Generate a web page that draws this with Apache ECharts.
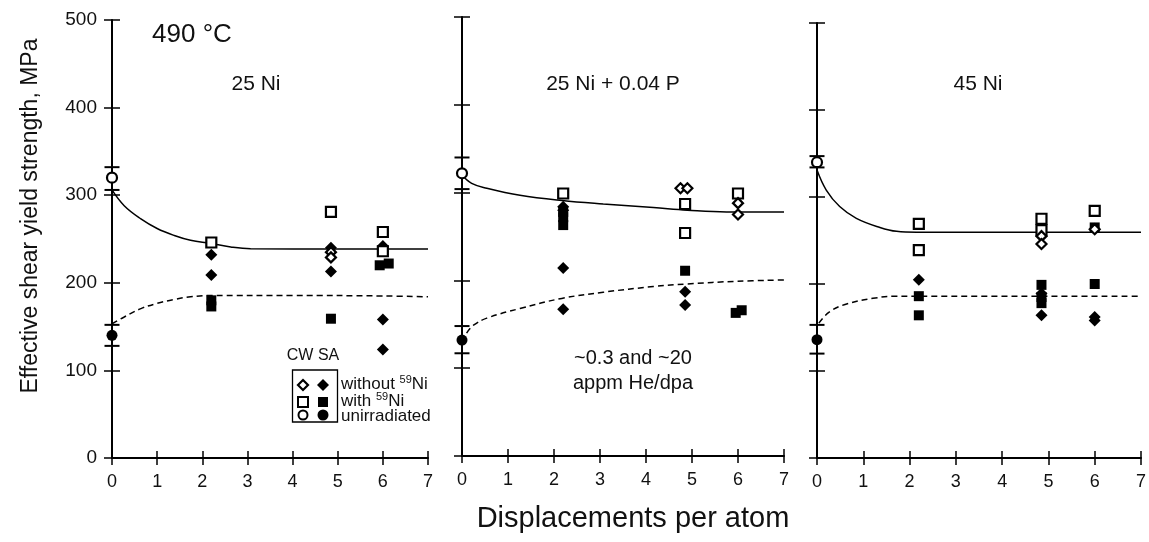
<!DOCTYPE html>
<html>
<head>
<meta charset="utf-8">
<script src="https://cdn.jsdelivr.net/npm/echarts@6/dist/echarts.min.js"></script>
<style>
  html, body { margin: 0; padding: 0; background: #fff; }
  #chart { width: 1149px; height: 542px; }
</style>
</head>
<body>
<div id="chart"></div>
<script>
// ---- data ----
const xTicks = [0, 1, 2, 3, 4, 5, 6, 7];
const yTicks = [0, 100, 200, 300, 400, 500];
const panelTitles = ["25 Ni", "25 Ni + 0.04 P", "45 Ni"];

// panel 1 : 25 Ni
const ni25OpenCircle = [[0, 320]];
const ni25ClosedCircle = [[0, 140]];
const ni25ErrCaps = [[0, 332], [0, 306], [0, 152], [0, 128]];
const ni25OpenDiamond = [[4.85, 235], [4.85, 229]];
const ni25ClosedDiamond = [[2.2, 232], [2.2, 209], [4.85, 240], [4.85, 213], [6.0, 242], [6.0, 158], [6.0, 124]];
const ni25OpenSquare = [[2.2, 246], [4.85, 281], [6.0, 258], [6.0, 236]];
const ni25ClosedSquare = [[2.2, 180], [2.2, 173], [4.85, 159], [5.93, 220], [6.13, 222]];
const ni25Upper = [[0, 306], [0.27, 288], [0.64, 273], [1.0, 262], [1.38, 254], [1.74, 248.5], [2.17, 245], [2.63, 241], [3.07, 239], [5, 238.5], [7, 238.5]];
const ni25Lower = [[0, 153], [0.27, 161], [0.64, 170.5], [1.0, 176.5], [1.38, 181], [1.74, 184], [2.2, 185.5], [4, 185.5], [6, 185], [7, 184]];

// panel 2 : 25 Ni + 0.04 P
const niPOpenCircle = [[0, 322]];
const niPClosedCircle = [[0, 132]];
const niPErrCaps = [[0, 340], [0, 304], [0, 148], [0, 117]];
const niPOpenDiamond = [[4.75, 305], [4.9, 305], [6.0, 288], [6.0, 275]];
const niPClosedDiamond = [[2.2, 284], [2.2, 280], [2.2, 214], [2.2, 167], [4.85, 187], [4.85, 172]];
const niPOpenSquare = [[2.2, 299], [4.85, 287], [4.85, 254], [6.0, 299]];
const niPClosedSquare = [[2.2, 278], [2.2, 272], [2.2, 263], [4.85, 211], [5.95, 163], [6.08, 166]];
const niPUpper = [[0, 320], [0.21, 310.5], [0.54, 305], [1.26, 297], [2.17, 291], [3.07, 287], [4.16, 283], [4.9, 280], [5.75, 278], [7, 278]];
const niPLower = [[0.1, 140], [0.25, 149], [0.54, 157], [1.26, 168], [2.17, 179.5], [3.07, 186.5], [4.16, 193], [4.9, 196], [5.98, 199], [7, 200.5]];

// panel 3 : 45 Ni
const ni45OpenCircle = [[0, 340]];
const ni45ClosedCircle = [[0, 136]];
const ni45ErrCaps = [[0, 347], [0, 334], [0, 153], [0, 120]];
const ni45OpenDiamond = [[4.85, 255], [4.85, 246], [6.0, 263]];
const ni45ClosedDiamond = [[2.2, 205], [4.85, 189], [4.85, 164], [6.0, 162], [6.0, 158]];
const ni45OpenSquare = [[2.2, 269], [2.2, 239], [4.85, 275], [4.85, 262], [6.0, 284]];
const ni45ClosedSquare = [[2.2, 186], [2.2, 164], [4.85, 199], [4.85, 185], [4.85, 178], [6.0, 265], [6.0, 200]];
const ni45Upper = [[0, 331], [0.2, 308], [0.49, 289], [0.85, 275.5], [1.36, 265], [1.72, 260.5], [2.15, 259.5], [7, 259.5]];
const ni45Lower = [[0.04, 155], [0.27, 168], [0.64, 177], [1.21, 183.5], [1.72, 186], [2.15, 186], [7, 186]];

const panels = [
  { openCircle: ni25OpenCircle, closedCircle: ni25ClosedCircle, caps: ni25ErrCaps, openDiamond: ni25OpenDiamond,
    closedDiamond: ni25ClosedDiamond, openSquare: ni25OpenSquare, closedSquare: ni25ClosedSquare, upper: ni25Upper, lower: ni25Lower },
  { openCircle: niPOpenCircle, closedCircle: niPClosedCircle, caps: niPErrCaps, openDiamond: niPOpenDiamond,
    closedDiamond: niPClosedDiamond, openSquare: niPOpenSquare, closedSquare: niPClosedSquare, upper: niPUpper, lower: niPLower },
  { openCircle: ni45OpenCircle, closedCircle: ni45ClosedCircle, caps: ni45ErrCaps, openDiamond: ni45OpenDiamond,
    closedDiamond: ni45ClosedDiamond, openSquare: ni45OpenSquare, closedSquare: ni45ClosedSquare, upper: ni45Upper, lower: ni45Lower },
];

// ---- layout ----
const FONT = "Liberation Sans, Arial, sans-serif";
const grids = [
  { left: 112, top: 20, width: 316, height: 438 },
  { left: 462, top: 17, width: 322, height: 439 },
  { left: 817, top: 23, width: 326, height: 435 },
];

const xAxes = [];
const yAxes = [];
const series = [];

grids.forEach((g, i) => {
  const base = {
    gridIndex: i, type: "value", min: xTicks[0], max: xTicks[xTicks.length - 1], interval: 1,
    splitLine: { show: false },
  };
  // main x axis, ticks below
  xAxes.push(Object.assign({}, base, {
    position: "bottom",
    axisLine: { show: true, onZero: false, lineStyle: { color: "#000", width: 2 } },
    axisTick: { show: true, length: 7, lineStyle: { color: "#000", width: 1.5 } },
    axisLabel: { color: "#111", fontSize: 18, fontFamily: FONT, margin: 15 },
  }));
  // twin x axis, ticks above
  xAxes.push(Object.assign({}, base, {
    position: "bottom",
    axisLine: { show: false, onZero: false },
    axisTick: { show: true, inside: true, length: 7, lineStyle: { color: "#000", width: 1.5 } },
    axisLabel: { show: false },
  }));
  const ybase = {
    gridIndex: i, type: "value", min: yTicks[0], max: yTicks[yTicks.length - 1], interval: 100,
    splitLine: { show: false },
  };
  yAxes.push(Object.assign({}, ybase, {
    position: "left",
    axisLine: { show: true, onZero: false, lineStyle: { color: "#000", width: 2 } },
    axisTick: { show: true, length: 8, lineStyle: { color: "#000", width: 1.5 } },
    axisLabel: { show: i === 0, color: "#111", fontSize: 19, fontFamily: FONT, margin: 15 },
  }));
  yAxes.push(Object.assign({}, ybase, {
    position: "left",
    axisLine: { show: false, onZero: false },
    axisTick: { show: true, inside: true, length: 8, lineStyle: { color: "#000", width: 1.5 } },
    axisLabel: { show: false },
  }));

  const p = panels[i];
  const ax = { xAxisIndex: 2 * i, yAxisIndex: 2 * i };
  const sc = (data, symbol, size, open) => Object.assign({
    type: "scatter", data, symbol, symbolSize: size, clip: false, z: 5,
    itemStyle: open ? { color: "#fff", borderColor: "#000", borderWidth: 2.2, opacity: 1 } : { color: "#000", opacity: 1 },
  }, ax);

  series.push(Object.assign({
    type: "line", data: p.upper, showSymbol: false, smooth: 0.4,
    lineStyle: { color: "#000", width: 1.5 }, z: 3,
  }, ax));
  series.push(Object.assign({
    type: "line", data: p.lower, showSymbol: false, smooth: 0.4,
    lineStyle: { color: "#000", width: 1.5, type: [6, 4] }, z: 3,
  }, ax));
  series.push(Object.assign({
    type: "scatter", data: p.caps, symbol: "rect", symbolSize: [15, 2], clip: false, z: 4,
    itemStyle: { color: "#000", opacity: 1 },
  }, ax));
  series.push(sc(p.closedDiamond, "diamond", 12, false));
  series.push(sc(p.closedSquare, "rect", 10, false));
  series.push(sc(p.closedCircle, "circle", 11, false));
  series.push(sc(p.openSquare, "rect", 10, true));
  series.push(sc(p.openDiamond, "diamond", 10, true));
  series.push(sc(p.openCircle, "circle", 10, true));
});

// ---- legend box (panel 1) and annotations ----
const txt = (x, y, text, size, extra) => ({
  type: "text", x, y, z: 10,
  style: Object.assign({ text, fill: "#111", font: size + "px " + FONT, textAlign: "center", textVerticalAlign: "middle" }, extra || {}),
});
const supRich = {
  a: { fontSize: 17, fontFamily: FONT, color: "#111", lineHeight: 20 },
  s: { fontSize: 11, fontFamily: FONT, color: "#111", verticalAlign: "top", lineHeight: 20, padding: [0, 0, 6, 0] },
};
const legendText = (y, text) => ({
  type: "text", x: 341, y, z: 10,
  style: { text, rich: supRich, textAlign: "left", textVerticalAlign: "middle", fill: "#111", font: "17px " + FONT },
});

const graphic = [
  txt(192, 35, "490 °C", 26),
  txt(256, 84, panelTitles[0], 21),
  txt(613, 84, panelTitles[1], 21),
  txt(978, 84, panelTitles[2], 21),
  txt(313, 356, "CW SA", 16),
  txt(633, 358, "~0.3 and ~20", 20),
  txt(633, 383, "appm He/dpa", 20),
  txt(633, 519, "Displacements per atom", 29),
  Object.assign(txt(31, 216, "Effective shear yield strength, MPa", 23), { rotation: Math.PI / 2 }),
  { type: "rect", z: 9, shape: { x: 292.5, y: 370, width: 45, height: 52 },
    style: { fill: "#fff", stroke: "#000", lineWidth: 1.3 } },
  { type: "polygon", z: 10, shape: { points: [[303, 380], [308, 385], [303, 390], [298, 385]] },
    style: { fill: "#fff", stroke: "#000", lineWidth: 2.2 } },
  { type: "polygon", z: 10, shape: { points: [[323, 379], [329, 385], [323, 391], [317, 385]] },
    style: { fill: "#000" } },
  { type: "rect", z: 10, shape: { x: 298, y: 397, width: 10, height: 10 },
    style: { fill: "#fff", stroke: "#000", lineWidth: 2 } },
  { type: "rect", z: 10, shape: { x: 318, y: 397, width: 10, height: 10 }, style: { fill: "#000" } },
  { type: "circle", z: 10, shape: { cx: 303, cy: 415, r: 4.5 },
    style: { fill: "#fff", stroke: "#000", lineWidth: 2 } },
  { type: "circle", z: 10, shape: { cx: 323, cy: 415, r: 5.5 }, style: { fill: "#000" } },
  legendText(384, "{a|without }{s|59}{a|Ni}"),
  legendText(401, "{a|with }{s|59}{a|Ni}"),
  legendText(416, "{a|unirradiated}"),
];

const chart = echarts.init(document.getElementById("chart"), null, { renderer: "canvas" });
chart.setOption({
  backgroundColor: "#fff",
  animation: false,
  grid: grids,
  xAxis: xAxes,
  yAxis: yAxes,
  series,
  graphic,
});
</script>
</body>
</html>
